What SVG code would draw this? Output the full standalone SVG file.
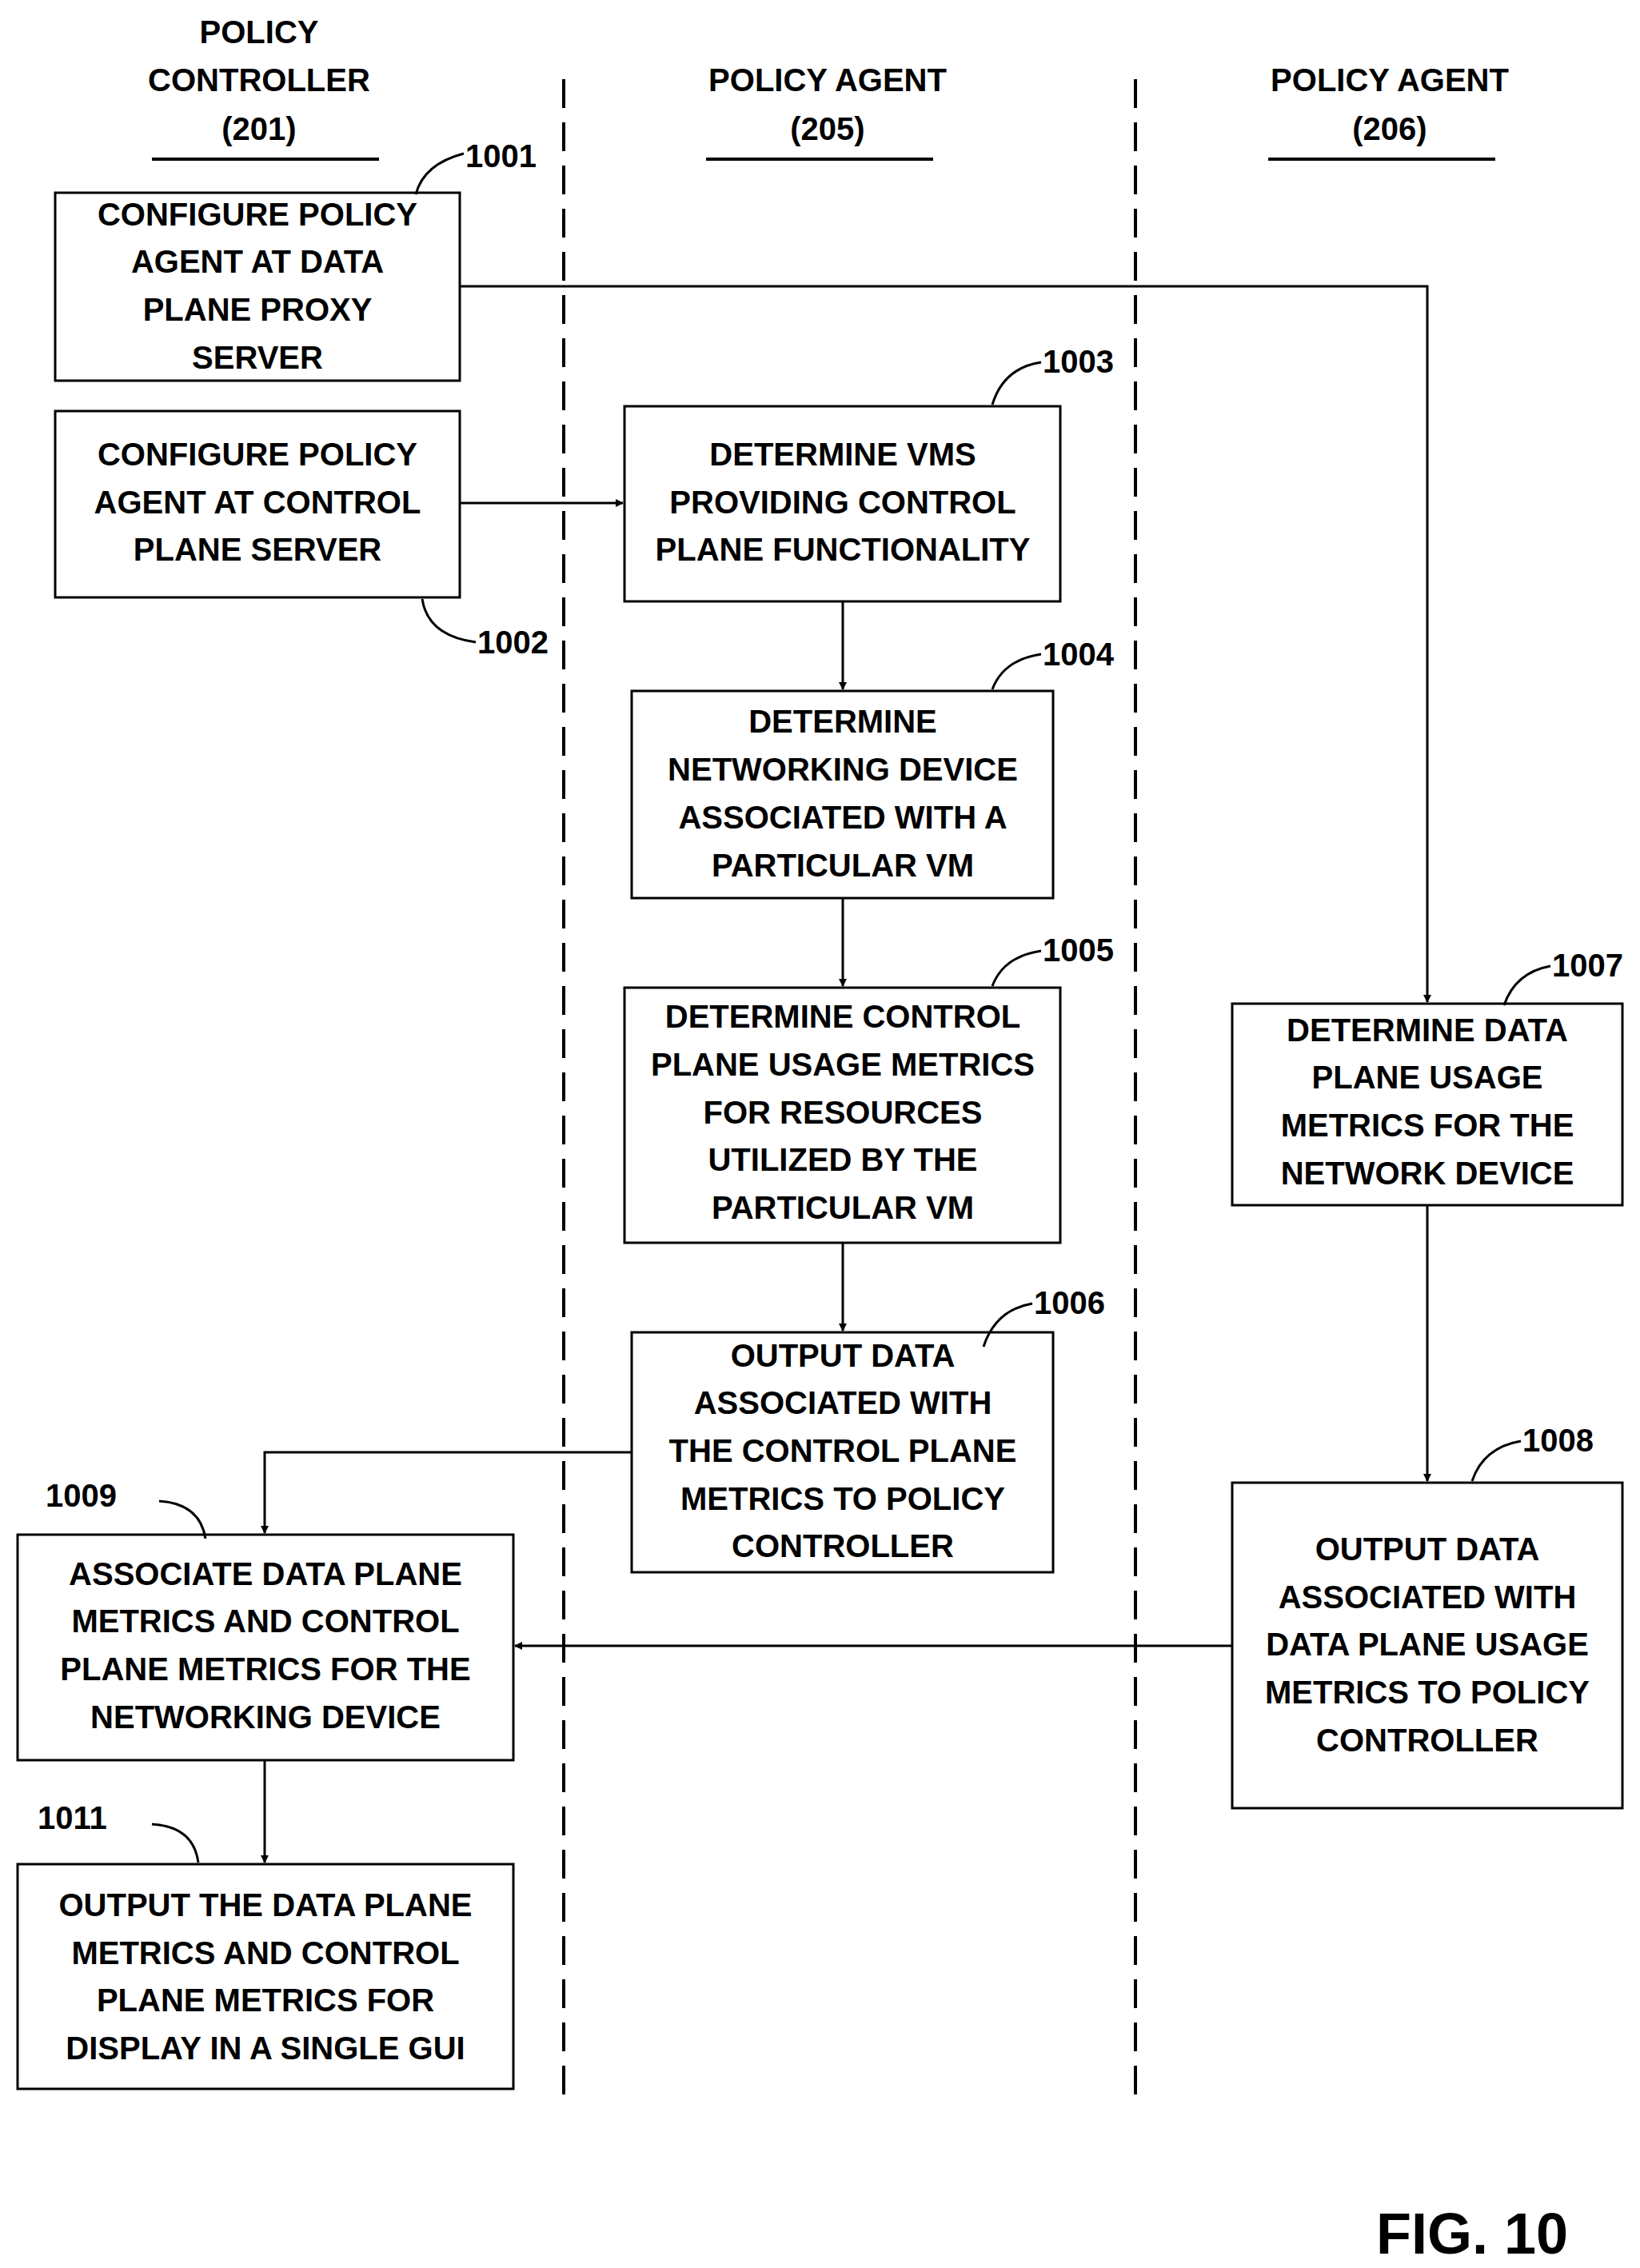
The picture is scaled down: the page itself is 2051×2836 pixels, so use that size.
<svg xmlns="http://www.w3.org/2000/svg" width="2051" height="2836" viewBox="0 0 2051 2836">
<defs>
<marker id="ah" markerWidth="10" markerHeight="10" refX="9" refY="5" orient="auto" markerUnits="userSpaceOnUse" viewBox="0 0 10 10"><path d="M0,0 L10,5 L0,10 z" fill="#000"/></marker>
<style>
.b{fill:#fff;stroke:#000;stroke-width:3}
.t{font-family:"Liberation Sans",Arial,sans-serif;font-weight:bold;font-size:40px;text-anchor:middle;fill:#000}
.l{font-family:"Liberation Sans",Arial,sans-serif;font-weight:bold;font-size:40px;fill:#000}
.c{fill:none;stroke:#000;stroke-width:3}
.d{stroke:#000;stroke-width:4;stroke-dasharray:36,18}
</style>
</defs>
<rect width="2051" height="2836" fill="#fff"/>
<g id="lanes">
<text class="t" x="324" y="54">POLICY</text><text class="t" x="324" y="114">CONTROLLER</text><text class="t" x="324" y="175">(201)</text>
<line x1="190" y1="199" x2="474" y2="199" stroke="#000" stroke-width="4"/>
<text class="t" x="1035" y="114">POLICY AGENT</text><text class="t" x="1035" y="175">(205)</text>
<line x1="883" y1="199" x2="1167" y2="199" stroke="#000" stroke-width="4"/>
<text class="t" x="1738" y="114">POLICY AGENT</text><text class="t" x="1738" y="175">(206)</text>
<line x1="1586" y1="199" x2="1870" y2="199" stroke="#000" stroke-width="4"/>
<line class="d" x1="705" y1="99" x2="705" y2="2622"/>
<line class="d" x1="1420" y1="99" x2="1420" y2="2622"/>
</g>
<g id="connectors">
<path class="c" d="M575,358 H1785 V1253" marker-end="url(#ah)"/>
<path class="c" d="M575,629 H779" marker-end="url(#ah)"/>
<path class="c" d="M1054,752 V862" marker-end="url(#ah)"/>
<path class="c" d="M1054,1123 V1233" marker-end="url(#ah)"/>
<path class="c" d="M1054,1554 V1664" marker-end="url(#ah)"/>
<path class="c" d="M790,1816 H331 V1917" marker-end="url(#ah)"/>
<path class="c" d="M1785,1507 V1852" marker-end="url(#ah)"/>
<path class="c" d="M1541,2058 H644" marker-end="url(#ah)"/>
<path class="c" d="M331,2201 V2329" marker-end="url(#ah)"/>
</g>
<g id="n1001"><rect class="b" x="69" y="241" width="506" height="235"/>
<text class="t" x="322" y="282">CONFIGURE POLICY</text><text class="t" x="322" y="341">AGENT AT DATA</text><text class="t" x="322" y="401">PLANE PROXY</text><text class="t" x="322" y="461">SERVER</text>
<path class="c" d="M520,243 Q530,205 580,192"/><text class="l" x="582" y="209">1001</text></g>
<g id="n1002"><rect class="b" x="69" y="514" width="506" height="233"/>
<text class="t" x="322" y="582">CONFIGURE POLICY</text><text class="t" x="322" y="642">AGENT AT CONTROL</text><text class="t" x="322" y="701">PLANE SERVER</text>
<path class="c" d="M528,749 Q535,795 595,803"/><text class="l" x="597" y="817">1002</text></g>
<g id="n1003"><rect class="b" x="781" y="508" width="545" height="244"/>
<text class="t" x="1054" y="582">DETERMINE VMS</text><text class="t" x="1054" y="642">PROVIDING CONTROL</text><text class="t" x="1054" y="701">PLANE FUNCTIONALITY</text>
<path class="c" d="M1241,506 Q1255,460 1302,453"/><text class="l" x="1304" y="466">1003</text></g>
<g id="n1004"><rect class="b" x="790" y="864" width="527" height="259"/>
<text class="t" x="1054" y="916">DETERMINE</text><text class="t" x="1054" y="976">NETWORKING DEVICE</text><text class="t" x="1054" y="1036">ASSOCIATED WITH A</text><text class="t" x="1054" y="1096">PARTICULAR VM</text>
<path class="c" d="M1241,862 Q1255,825 1302,818"/><text class="l" x="1304" y="832">1004</text></g>
<g id="n1005"><rect class="b" x="781" y="1235" width="545" height="319"/>
<text class="t" x="1054" y="1285">DETERMINE CONTROL</text><text class="t" x="1054" y="1345">PLANE USAGE METRICS</text><text class="t" x="1054" y="1405">FOR RESOURCES</text><text class="t" x="1054" y="1464">UTILIZED BY THE</text><text class="t" x="1054" y="1524">PARTICULAR VM</text>
<path class="c" d="M1241,1233 Q1255,1196 1302,1189"/><text class="l" x="1304" y="1202">1005</text></g>
<g id="n1006"><rect class="b" x="790" y="1666" width="527" height="300"/>
<text class="t" x="1054" y="1709">OUTPUT DATA</text><text class="t" x="1054" y="1768">ASSOCIATED WITH</text><text class="t" x="1054" y="1828">THE CONTROL PLANE</text><text class="t" x="1054" y="1888">METRICS TO  POLICY</text><text class="t" x="1054" y="1947">CONTROLLER</text>
<path class="c" d="M1230,1684 Q1245,1638 1291,1630"/><text class="l" x="1293" y="1643">1006</text></g>
<g id="n1007"><rect class="b" x="1541" y="1255" width="488" height="252"/>
<text class="t" x="1785" y="1302">DETERMINE DATA</text><text class="t" x="1785" y="1361">PLANE USAGE</text><text class="t" x="1785" y="1421">METRICS FOR THE</text><text class="t" x="1785" y="1481">NETWORK DEVICE</text>
<path class="c" d="M1881,1257 Q1895,1216 1939,1208"/><text class="l" x="1941" y="1221">1007</text></g>
<g id="n1008"><rect class="b" x="1541" y="1854" width="488" height="407"/>
<text class="t" x="1785" y="1951">OUTPUT DATA</text><text class="t" x="1785" y="2011">ASSOCIATED WITH</text><text class="t" x="1785" y="2070">DATA PLANE USAGE</text><text class="t" x="1785" y="2130">METRICS TO POLICY</text><text class="t" x="1785" y="2190">CONTROLLER</text>
<path class="c" d="M1841,1852 Q1855,1810 1902,1802"/><text class="l" x="1904" y="1815">1008</text></g>
<g id="n1009"><rect class="b" x="22" y="1919" width="620" height="282"/>
<text class="t" x="332" y="1982">ASSOCIATE DATA PLANE</text><text class="t" x="332" y="2041">METRICS AND CONTROL</text><text class="t" x="332" y="2101">PLANE METRICS FOR THE</text><text class="t" x="332" y="2161">NETWORKING DEVICE</text>
<path class="c" d="M199,1877 Q250,1880 257,1924"/><text class="l" x="57" y="1884">1009</text></g>
<g id="n1011"><rect class="b" x="22" y="2331" width="620" height="281"/>
<text class="t" x="332" y="2396">OUTPUT THE DATA PLANE</text><text class="t" x="332" y="2456">METRICS AND CONTROL</text><text class="t" x="332" y="2515">PLANE METRICS FOR</text><text class="t" x="332" y="2575">DISPLAY IN A SINGLE GUI</text>
<path class="c" d="M190,2281 Q242,2284 248,2329"/><text class="l" x="47" y="2287">1011</text></g>
<text x="1841" y="2818" style="font-family:'Liberation Sans',Arial,sans-serif;font-weight:bold;font-size:72px;text-anchor:middle">FIG. 10</text>
</svg>
